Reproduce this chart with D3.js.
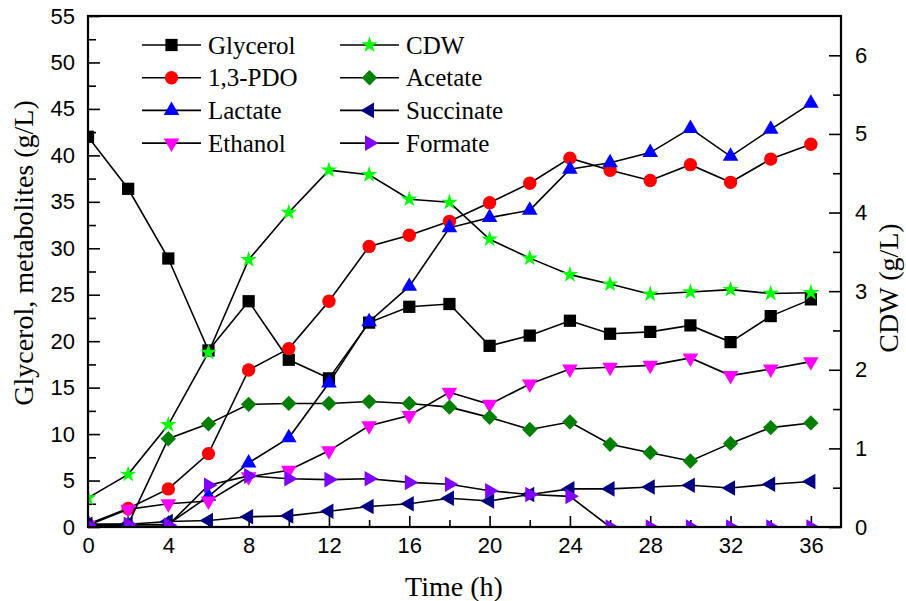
<!DOCTYPE html>
<html>
<head>
<meta charset="utf-8">
<script src="https://cdn.jsdelivr.net/npm/d3@7"></script>
<style>
  body { margin: 0; background: #fff; }
  svg { display: block; font-family: "Liberation Serif", "Times New Roman", serif; }
  .axis text { font-size: 22px; fill: #000; }
  .axis line { stroke: #000; stroke-width: 1.6px; }
</style>
</head>
<body>
<svg id="chart" width="906" height="601"></svg>
<script>
// sampling times (h)
const time = [0, 2, 4, 6, 8, 10, 12, 14, 16, 18, 20, 22, 24, 26, 28, 30, 32, 34, 36];

// left axis, g/L
const glycerol  = [42.0, 36.4, 28.9, 19.0, 24.3, 18.0, 16.0, 22.0, 23.7, 24.0, 19.5, 20.6, 22.2, 20.8, 21.0, 21.7, 19.9, 22.7, 24.5];
const pdo       = [0.3, 2.0, 4.1, 7.9, 16.9, 19.2, 24.3, 30.2, 31.4, 32.9, 34.9, 37.0, 39.7, 38.4, 37.3, 39.0, 37.1, 39.6, 41.2];
const lactate   = [0.2, 0.2, 0.3, 3.3, 6.9, 9.6, 15.5, 22.1, 25.9, 32.2, 33.3, 34.1, 38.5, 39.2, 40.3, 42.9, 39.9, 42.8, 45.6];
const ethanol   = [0.2, 1.9, 2.5, 2.8, 5.4, 6.1, 8.2, 10.9, 12.0, 14.5, 13.2, 15.4, 17.0, 17.2, 17.4, 18.2, 16.3, 17.0, 17.8];
const acetate   = [0.3, 0.3, 9.5, 11.1, 13.2, 13.3, 13.3, 13.5, 13.3, 12.9, 11.8, 10.5, 11.3, 8.9, 8.0, 7.1, 9.0, 10.7, 11.2];
const succinate = [0.3, 0.3, 0.6, 0.7, 1.1, 1.2, 1.7, 2.2, 2.5, 3.1, 2.8, 3.5, 4.1, 4.1, 4.3, 4.5, 4.2, 4.6, 4.9];
const formate   = [0.2, 0.3, 0.2, 4.5, 5.5, 5.2, 5.1, 5.2, 4.8, 4.6, 3.9, 3.5, 3.3, 0, 0, 0, 0, 0, 0];

// right axis, g/L
const cdw = [0.37, 0.67, 1.30, 2.22, 3.40, 4.00, 4.54, 4.48, 4.17, 4.13, 3.66, 3.42, 3.21, 3.09, 2.96, 2.99, 3.02, 2.97, 2.98];

const xTicks = [0, 4, 8, 12, 16, 20, 24, 28, 32, 36];
const yTicks = [0, 5, 10, 15, 20, 25, 30, 35, 40, 45, 50, 55];
const y2Ticks = [0, 1, 2, 3, 4, 5, 6];

const series = [
    {name: "Glycerol",  values: glycerol,  color: "#000000", shape: "square",   axis: "left",  col: 0, row: 0},
    {name: "1,3-PDO",   values: pdo,       color: "#ff0000", shape: "circle",   axis: "left",  col: 0, row: 1},
    {name: "Lactate",   values: lactate,   color: "#0000ff", shape: "up",       axis: "left",  col: 0, row: 2},
    {name: "Ethanol",   values: ethanol,   color: "#ff00ff", shape: "down",     axis: "left",  col: 0, row: 3},
    {name: "CDW",       values: cdw,       color: "#00ff00", shape: "star",     axis: "right", col: 1, row: 0},
    {name: "Acetate",   values: acetate,   color: "#008000", shape: "diamond",  axis: "left",  col: 1, row: 1},
    {name: "Succinate", values: succinate, color: "#000080", shape: "left",     axis: "left",  col: 1, row: 2},
    {name: "Formate",   values: formate,   color: "#8000ff", shape: "right",    axis: "left",  col: 1, row: 3}
];

const margin = {top: 16, right: 65, bottom: 74, left: 88};
const width = 906 - margin.left - margin.right;
const height = 601 - margin.top - margin.bottom;

const svg = d3.select("#chart");
const g = svg.append("g").attr("transform", `translate(${margin.left},${margin.top})`);

const x = d3.scaleLinear().domain([0, 37.5]).range([0, width]);
const y = d3.scaleLinear().domain([0, 55]).range([height, 0]);
const y2 = d3.scaleLinear().domain([0, 6.5]).range([height, 0]);

// marker path for each shape
function marker(shape) {
    switch (shape) {
        case "square":  return {path: d3.symbol(d3.symbolSquare, 150)(), rot: 0};
        case "circle":  return {path: d3.symbol(d3.symbolCircle, 140)(), rot: 0};
        case "up":      return {path: d3.symbol(d3.symbolTriangle, 105)(), rot: 0};
        case "down":    return {path: d3.symbol(d3.symbolTriangle, 105)(), rot: 180};
        case "left":    return {path: d3.symbol(d3.symbolTriangle, 105)(), rot: -90};
        case "right":   return {path: d3.symbol(d3.symbolTriangle, 105)(), rot: 90};
        case "diamond": return {path: d3.symbol(d3.symbolSquare, 118)(), rot: 45};
        case "star":    return {path: d3.symbol(d3.symbolStar, 85)(), rot: 0};
    }
}

// minor ticks
function minor(axisFn, scale, vals, size) {
    return axisFn(scale).tickValues(vals).tickSizeInner(-size).tickSizeOuter(0).tickFormat("");
}
const xMinor = d3.range(2, 37, 4);
const yMinor = d3.range(2.5, 55, 5);
const y2Minor = d3.range(0.5, 6.5, 1);

g.append("g").attr("class", "axis").attr("transform", `translate(0,${height})`)
    .call(minor(d3.axisBottom, x, xMinor, 7));
g.append("g").attr("class", "axis")
    .call(minor(d3.axisLeft, y, yMinor, 8));
g.append("g").attr("class", "axis").attr("transform", `translate(${width},0)`)
    .call(minor(d3.axisRight, y2, y2Minor, 8));

g.append("g").attr("class", "axis").attr("transform", `translate(0,${height})`)
    .call(d3.axisBottom(x).tickValues(xTicks).tickSizeInner(-11).tickSizeOuter(0).tickPadding(10));
g.append("g").attr("class", "axis")
    .call(d3.axisLeft(y).tickValues(yTicks).tickSizeInner(-12).tickSizeOuter(0).tickPadding(13));
g.append("g").attr("class", "axis").attr("transform", `translate(${width},0)`)
    .call(d3.axisRight(y2).tickValues(y2Ticks).tickFormat(d3.format("d"))
        .tickSizeInner(-12).tickSizeOuter(0).tickPadding(14));

g.selectAll(".axis .domain").remove();

// plot
g.append("clipPath").attr("id", "plot-clip")
    .append("rect").attr("width", width).attr("height", height);

const plot = g.append("g").attr("clip-path", "url(#plot-clip)");

series.forEach(s => {
    const ys = s.axis === "right" ? y2 : y;
    const pts = time.map((t, i) => [x(t), ys(s.values[i])]);
    plot.append("path")
        .attr("d", d3.line()(pts))
        .attr("fill", "none")
        .attr("stroke", "#000")
        .attr("stroke-width", 1.6);
    const m = marker(s.shape);
    plot.selectAll(null).data(pts).join("path")
        .attr("d", m.path)
        .attr("transform", d => `translate(${d[0]},${d[1]}) rotate(${m.rot})`)
        .attr("fill", s.color);
});

// frame
g.append("rect")
    .attr("width", width).attr("height", height)
    .attr("fill", "none").attr("stroke", "#000").attr("stroke-width", 2.2);

// legend
const legend = svg.append("g");
const colX = [142, 340];
series.forEach(s => {
    const lx = colX[s.col];
    const ly = 45 + s.row * 32.7;
    const item = legend.append("g").attr("transform", `translate(${lx},${ly})`);
    item.append("line").attr("x1", 0).attr("x2", 59).attr("stroke", "#000").attr("stroke-width", 1.6);
    const m = marker(s.shape);
    item.append("path").attr("d", m.path)
        .attr("transform", `translate(29.5,0) rotate(${m.rot})`)
        .attr("fill", s.color);
    item.append("text").attr("x", 66).attr("y", 8.5)
        .style("font-size", "25px").text(s.name);
});

// axis titles
svg.append("text")
    .attr("transform", "translate(33,253) rotate(-90)")
    .attr("text-anchor", "middle").style("font-size", "28px")
    .text("Glycerol, metabolites (g/L)");
svg.append("text")
    .attr("transform", "translate(898,288) rotate(-90)")
    .attr("text-anchor", "middle").style("font-size", "28px")
    .text("CDW (g/L)");
svg.append("text")
    .attr("x", 454).attr("y", 596)
    .attr("text-anchor", "middle").style("font-size", "28px")
    .text("Time (h)");
</script>
</body>
</html>
